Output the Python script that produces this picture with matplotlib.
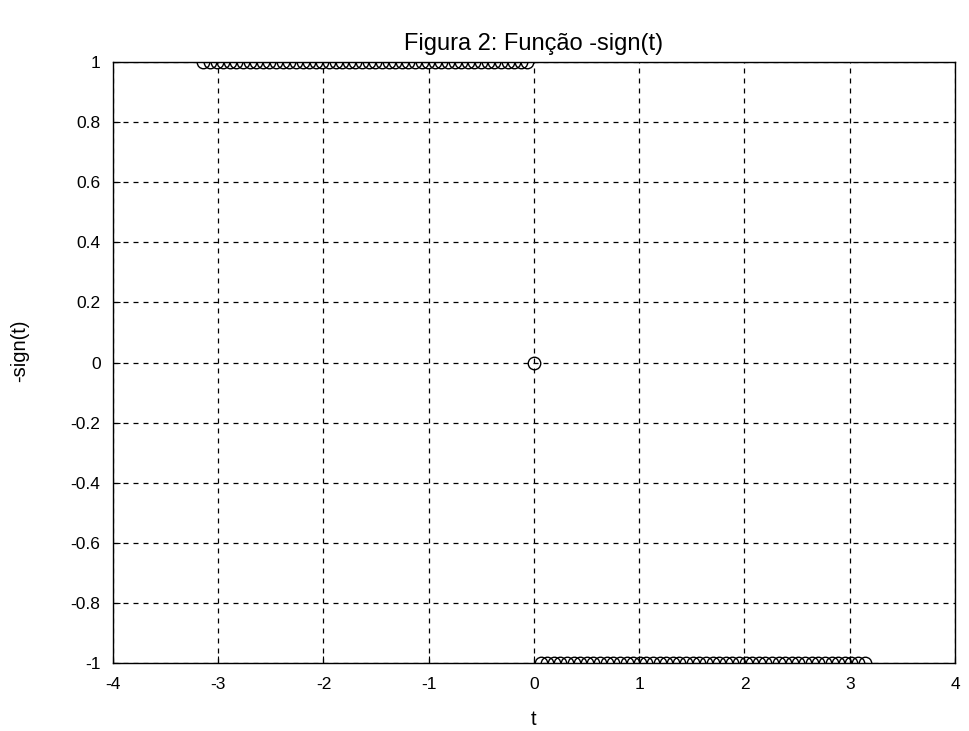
import matplotlib
matplotlib.use("Agg")
import matplotlib.pyplot as plt
import numpy as np

# t = -pi..pi in steps of pi/50, y = -sign(t)
N_HALF = 50
X_TICKS = [-4, -3, -2, -1, 0, 1, 2, 3, 4]
Y_TICKS = [-1, -0.8, -0.6, -0.4, -0.2, 0, 0.2, 0.4, 0.6, 0.8, 1]
Y_TICK_LABELS = ["-1", "-0.8", "-0.6", "-0.4", "-0.2", "0", "0.2", "0.4", "0.6", "0.8", "1"]
TITLE = "Figura 2: Função -sign(t)"
XLABEL = "t"
YLABEL = "-sign(t)"

plt.rcParams["font.family"] = ["Liberation Sans", "DejaVu Sans"]
plt.rcParams["axes.unicode_minus"] = False

k = np.arange(-N_HALF, N_HALF + 1)
t = k * np.pi / N_HALF
y = -np.sign(k).astype(float)

fig = plt.figure(figsize=(9.7, 7.31), dpi=100)
ax = fig.add_axes([0.1165, 0.093, 0.868, 0.822])
ax.plot(t, y, linestyle="none", marker="o", markersize=9, markerfacecolor="none",
        markeredgecolor="black", markeredgewidth=1.0)

ax.set_xlim(-4, 4)
ax.set_ylim(-1, 1)
ax.set_xticks(X_TICKS)
ax.set_xticklabels([str(v) for v in X_TICKS])
ax.set_yticks(Y_TICKS)
ax.set_yticklabels(Y_TICK_LABELS)
ax.tick_params(direction="in", length=5, labelsize=12.5, colors="black")
ax.tick_params(axis="x", pad=10)
ax.tick_params(axis="y", pad=9)
ax.grid(True, linestyle=(0, (4, 4)), color="black", linewidth=0.9)
for s in ax.spines.values():
    s.set_linewidth(1.0)

ax.set_title(TITLE, fontsize=17, pad=9)
ax.set_xlabel(XLABEL, fontsize=14.5)
ax.set_ylabel(YLABEL, fontsize=14.5)
ax.xaxis.set_label_coords(0.5, -0.078)
ax.yaxis.set_label_coords(-0.1, 0.52)

fig.savefig("out.png", dpi=100)
